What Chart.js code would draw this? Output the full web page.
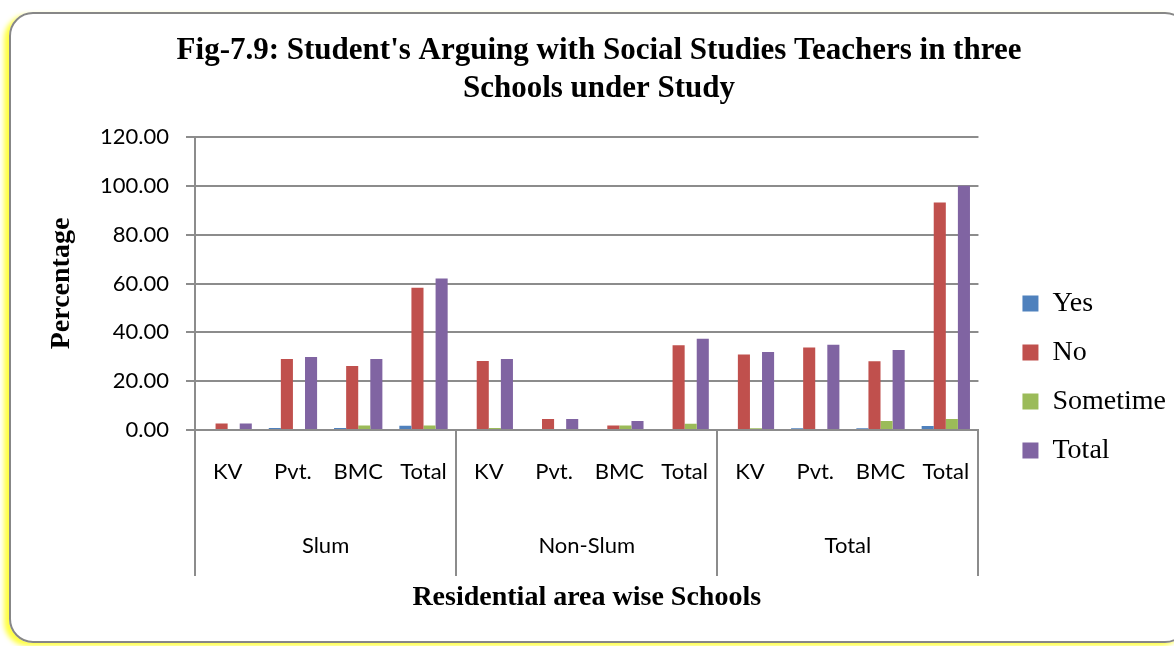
<!DOCTYPE html>
<html>
<head>
<meta charset="utf-8">
<script src="https://cdn.jsdelivr.net/npm/chart.js@4/dist/chart.umd.min.js"></script>
<style>
  html, body { margin: 0; padding: 0; background: #fff; }
  #wrap { position: relative; width: 1174px; height: 646px; overflow: hidden; }
  #frame {
    position: absolute; left: 9px; top: 12px; width: 1180px; height: 631px;
    border: 2px solid #878787; border-radius: 24px; box-sizing: border-box;
    box-shadow: -5px 3px 5px rgba(255, 255, 0, 0.75);
  }
  #chart { position: absolute; left: 0; top: 0; }
</style>
</head>
<body>
<div id="wrap">
  <div id="frame"></div>
  <canvas id="chart" width="1174" height="646"></canvas>
</div>
<script>
const schools = ['KV', 'Pvt.', 'BMC', 'Total', 'KV', 'Pvt.', 'BMC', 'Total', 'KV', 'Pvt.', 'BMC', 'Total'];
const areas = ['Slum', 'Non-Slum', 'Total'];

const yesValues = [0, 0.8, 0.8, 1.7, 0, 0, 0, 0, 0, 0.7, 0.7, 1.6];
const noValues = [2.7, 29.1, 26.2, 58.3, 28.3, 4.5, 1.8, 34.7, 30.9, 33.8, 28.2, 93.2];
const sometimeValues = [0, 0, 1.8, 1.8, 0.8, 0, 1.8, 2.6, 0.7, 0, 3.7, 4.5];
const totalValues = [2.7, 29.9, 29.1, 62.0, 29.1, 4.5, 3.7, 37.4, 31.9, 34.9, 32.8, 100];

const serif = '"Liberation Serif", "Times New Roman", serif';
const sans = 'Lato, "Open Sans", sans-serif';
const gridGrey = '#8c8c8c';

// group labels (Slum / Non-Slum / Total) and the separators under the x axis
const groupAxis = {
  id: 'groupAxis',
  afterDraw(chart) {
    const { ctx, chartArea, scales: { x } } = chart;
    const per = schools.length / areas.length;
    const top = chartArea.bottom;
    const bottom = 576;
    ctx.save();
    ctx.strokeStyle = gridGrey;
    ctx.lineWidth = 2;
    for (let g = 0; g <= areas.length; g++) {
      const px = Math.round(x.getPixelForValue(g * per - 0.5));
      ctx.beginPath();
      ctx.moveTo(px, top);
      ctx.lineTo(px, bottom);
      ctx.stroke();
    }
    ctx.fillStyle = '#000';
    ctx.font = '22px ' + sans;
    ctx.textAlign = 'center';
    ctx.textBaseline = 'middle';
    areas.forEach((name, g) => {
      const mid = x.getPixelForValue(g * per + (per - 1) / 2);
      ctx.fillText(name, mid, 546);
    });
    ctx.restore();
  }
};

new Chart(document.getElementById('chart'), {
  type: 'bar',
  data: {
    labels: schools,
    datasets: [
      { label: 'Yes', data: yesValues, backgroundColor: '#4f81bd' },
      { label: 'No', data: noValues, backgroundColor: '#c0504d' },
      { label: 'Sometime', data: sometimeValues, backgroundColor: '#9bbb59' },
      { label: 'Total', data: totalValues, backgroundColor: '#8064a2' }
    ]
  },
  options: {
    responsive: false,
    animation: false,
    layout: { padding: { left: 22, right: -2, top: 0, bottom: 0 } },
    datasets: {
      bar: { categoryPercentage: 0.74, barPercentage: 1, borderWidth: 0 }
    },
    plugins: {
      title: {
        display: true,
        text: ["Fig-7.9: Student's Arguing with Social Studies Teachers in three", 'Schools under Study'],
        color: '#000',
        font: { family: serif, size: 31, weight: 'bold', lineHeight: '38px' },
        padding: { top: 32, bottom: 29 }
      },
      legend: {
        position: 'right',
        align: 'center',
        title: { display: true, text: ' ', font: { size: 1, lineHeight: 1 }, padding: { top: 0, bottom: 107 } },
        labels: {
          color: '#000',
          boxWidth: 16,
          boxHeight: 16,
          padding: 21,
          font: { family: serif, size: 28 }
        }
      },
      tooltip: { enabled: false }
    },
    scales: {
      x: {
        offset: true,
        grid: { display: false, drawTicks: false },
        border: { display: true, color: gridGrey, width: 2 },
        ticks: {
          color: '#000',
          font: { family: sans, size: 22 },
          padding: 29,
          maxRotation: 0,
          autoSkip: false
        },
        title: {
          display: true,
          text: 'Residential area wise Schools',
          color: '#000',
          font: { family: serif, size: 28, weight: 'bold' },
          padding: { top: 0, bottom: 31 }
        },
        afterFit: (scale) => { scale.height = 216; }
      },
      y: {
        min: 0,
        max: 120,
        ticks: {
          stepSize: 20,
          color: '#000',
          font: { family: sans, size: 22 },
          padding: 17,
          callback: (v) => v.toFixed(2)
        },
        grid: { color: gridGrey, lineWidth: 2, tickLength: 9 },
        border: { display: true, color: gridGrey, width: 2 },
        title: {
          display: true,
          text: 'Percentage',
          color: '#000',
          font: { family: serif, size: 28, weight: 'bold' },
          padding: { top: 23, bottom: 0 }
        },
        afterFit: (scale) => { scale.width = 173; }
      },
      spacer: {
        type: 'linear',
        position: 'right',
        display: true,
        grid: { drawOnChartArea: false, drawTicks: false },
        border: { display: false },
        ticks: { display: false },
        afterFit: (scale) => { scale.width = 23; }
      }
    }
  },
  plugins: [groupAxis]
});
</script>
</body>
</html>
